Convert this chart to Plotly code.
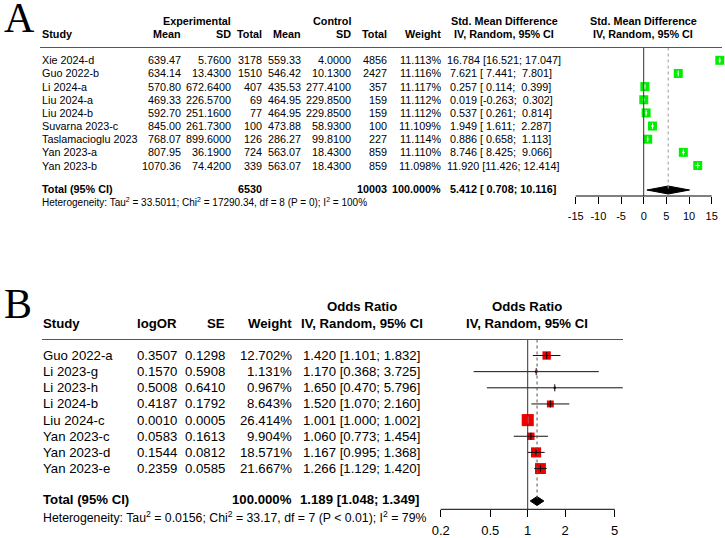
import math
import plotly.graph_objects as go

# ---------------- Panel A data ----------------
studies_a = ["Xie 2024-d", "Guo 2022-b", "Li 2024-a", "Liu 2024-a", "Liu 2024-b",
             "Suvarna 2023-c", "Taslamacioglu 2023", "Yan 2023-a", "Yan 2023-b"]
exp_mean = [639.47, 634.14, 570.80, 469.33, 592.70, 845.00, 768.07, 807.95, 1070.36]
exp_sd = [5.76, 13.43, 672.64, 226.57, 251.16, 261.73, 899.60, 36.19, 74.42]
exp_n = [3178, 1510, 407, 69, 77, 100, 126, 724, 339]
ctl_mean = [559.33, 546.42, 435.53, 464.95, 464.95, 473.88, 286.27, 563.07, 563.07]
ctl_sd = [4.00, 10.13, 277.41, 229.85, 229.85, 58.93, 99.81, 18.43, 18.43]
ctl_n = [4856, 2427, 357, 159, 159, 100, 227, 859, 859]
weight_a = [11.113, 11.116, 11.117, 11.112, 11.112, 11.109, 11.114, 11.110, 11.098]
smd = [16.784, 7.621, 0.257, 0.019, 0.537, 1.949, 0.886, 8.746, 11.920]
smd_lo = [16.521, 7.441, 0.114, -0.263, 0.261, 1.611, 0.658, 8.425, 11.426]
smd_hi = [17.047, 7.801, 0.399, 0.302, 0.814, 2.287, 1.113, 9.066, 12.414]
total_a = {"exp_n": 6530, "ctl_n": 10003, "weight": 100.000,
           "est": 5.412, "lo": 0.708, "hi": 10.116}
het_a = "Heterogeneity: Tau<sup>2</sup> = 33.5011; Chi<sup>2</sup> = 17290.34, df = 8 (P = 0); I<sup>2</sup> = 100%"
ticks_a = [-15, -10, -5, 0, 5, 10, 15]

# ---------------- Panel B data ----------------
studies_b = ["Guo 2022-a", "Li 2023-g", "Li 2023-h", "Li 2024-b", "Liu 2024-c",
             "Yan 2023-c", "Yan 2023-d", "Yan 2023-e"]
logor = [0.3507, 0.1570, 0.5008, 0.4187, 0.0010, 0.0583, 0.1544, 0.2359]
se = [0.1298, 0.5908, 0.6410, 0.1792, 0.0005, 0.1613, 0.0812, 0.0585]
weight_b = [12.702, 1.131, 0.967, 8.643, 26.414, 9.904, 18.571, 21.667]
or_est = [1.420, 1.170, 1.650, 1.520, 1.001, 1.060, 1.167, 1.266]
or_lo = [1.101, 0.368, 0.470, 1.070, 1.000, 0.773, 0.995, 1.129]
or_hi = [1.832, 3.725, 5.796, 2.160, 1.002, 1.454, 1.368, 1.420]
total_b = {"weight": 100.000, "est": 1.189, "lo": 1.048, "hi": 1.349}
het_b = "Heterogeneity: Tau<sup>2</sup> = 0.0156; Chi<sup>2</sup> = 33.17, df = 7 (P &lt; 0.01); I<sup>2</sup> = 79%"
ticks_b = [0.2, 0.5, 1, 2, 5]
ticklabels_b = ["0.2", "0.5", "1", "2", "5"]

# ---------------- layout geometry (pixels) ----------------
W, H = 725, 538
FONT = "Liberation Sans, Arial, Helvetica, sans-serif"
NB = "\u00a0"


def px(x):
    return x / W


def py(y):
    return 1 - y / H


# panel A
A_X0, A_X1 = 565, 722
A_ZERO, A_PPU = 643.7, 4.533
A_Y0, A_Y1 = 47.5, 196
A_ROW0, A_STEP = 60.3, 13.15


def a_row(p):
    return (p - A_ROW0) / A_STEP


def a_pix(i):
    return A_ROW0 + A_STEP * i


# panel B
B_X0, B_X1 = 430, 623
B_ONE, B_PPD = 527.7, 124.5
B_Y0, B_Y1 = 339.5, 509.3
B_ROW0, B_STEP = 355.5, 16.15


def b_row(p):
    return (p - B_ROW0) / B_STEP


def b_pix(i):
    return B_ROW0 + B_STEP * i


fig = go.Figure()

# ---------------- Panel A forest ----------------
rows_a = list(range(len(studies_a)))
size_a = [2.7 * math.sqrt(w) for w in weight_a]
fig.add_trace(go.Scatter(x=smd, y=rows_a, mode="markers", xaxis="x", yaxis="y",
                         marker=dict(symbol="square", size=size_a, color="#00EE00",
                                     opacity=1, line=dict(width=0)),
                         cliponaxis=False, hoverinfo="skip"))
ci_x_w, ci_y_w, ci_x_b, ci_y_b = [], [], [], []
ctr_col_a = []
for i in rows_a:
    half = size_a[i] / 2 / A_PPU
    inside = smd_lo[i] >= smd[i] - half and smd_hi[i] <= smd[i] + half
    tx, ty = (ci_x_w, ci_y_w) if inside else (ci_x_b, ci_y_b)
    tx += [smd_lo[i], smd_hi[i], None]
    ty += [i, i, None]
    ctr_col_a.append("white" if inside else "black")
fig.add_trace(go.Scatter(x=ci_x_b, y=ci_y_b, mode="lines", xaxis="x", yaxis="y",
                         line=dict(color="black", width=1), hoverinfo="skip"))
fig.add_trace(go.Scatter(x=ci_x_w, y=ci_y_w, mode="lines", xaxis="x", yaxis="y",
                         line=dict(color="white", width=1), hoverinfo="skip"))
fig.add_trace(go.Scatter(x=smd, y=rows_a, mode="markers", xaxis="x", yaxis="y",
                         marker=dict(symbol="line-ns", size=4, opacity=1,
                                     line=dict(color=ctr_col_a, width=1)),
                         cliponaxis=False, hoverinfo="skip"))

tot_row_a = a_row(190)
dh_a = 4 / A_STEP
fig.add_trace(go.Scatter(
    x=[total_a["lo"], total_a["est"], total_a["hi"], total_a["est"], total_a["lo"]],
    y=[tot_row_a, tot_row_a - dh_a, tot_row_a, tot_row_a + dh_a, tot_row_a],
    mode="lines", fill="toself", fillcolor="black", line=dict(color="black", width=1),
    xaxis="x", yaxis="y", hoverinfo="skip"))
fig.add_trace(go.Scatter(x=[0, 0], y=[a_row(A_Y0), a_row(A_Y1)], mode="lines",
                         xaxis="x", yaxis="y", line=dict(color="#333333", width=1),
                         hoverinfo="skip"))
fig.add_trace(go.Scatter(x=[total_a["est"], total_a["est"]], y=[a_row(A_Y0), tot_row_a],
                         mode="lines", xaxis="x", yaxis="y",
                         line=dict(color="#999999", width=1, dash="dot"), hoverinfo="skip"))

# ---------------- Panel B forest ----------------
rows_b = list(range(len(studies_b)))
size_b = [2.35 * math.sqrt(w) for w in weight_b]
fig.add_trace(go.Scatter(x=or_est, y=rows_b, mode="markers", xaxis="x2", yaxis="y2",
                         marker=dict(symbol="square", size=size_b, color="#EE0000",
                                     opacity=1, line=dict(width=0)),
                         cliponaxis=False, hoverinfo="skip"))
ci_x_w, ci_y_w, ci_x_b, ci_y_b = [], [], [], []
ctr_col_b = []
for i in rows_b:
    half = size_b[i] / 2 / B_PPD
    le = math.log10(or_est[i])
    inside = math.log10(or_lo[i]) >= le - half and math.log10(or_hi[i]) <= le + half
    tx, ty = (ci_x_w, ci_y_w) if inside else (ci_x_b, ci_y_b)
    tx += [or_lo[i], or_hi[i], None]
    ty += [i, i, None]
    ctr_col_b.append("white" if inside else "black")
fig.add_trace(go.Scatter(x=ci_x_b, y=ci_y_b, mode="lines", xaxis="x2", yaxis="y2",
                         line=dict(color="#111111", width=1), hoverinfo="skip"))
fig.add_trace(go.Scatter(x=ci_x_w, y=ci_y_w, mode="lines", xaxis="x2", yaxis="y2",
                         line=dict(color="white", width=1), hoverinfo="skip"))
fig.add_trace(go.Scatter(x=or_est, y=rows_b, mode="markers", xaxis="x2", yaxis="y2",
                         marker=dict(symbol="line-ns", size=5, opacity=1,
                                     line=dict(color=ctr_col_b, width=1)),
                         cliponaxis=False, hoverinfo="skip"))
tot_row_b = b_row(501)
dh_b = 4.5 / B_STEP
fig.add_trace(go.Scatter(
    x=[total_b["lo"], total_b["est"], total_b["hi"], total_b["est"], total_b["lo"]],
    y=[tot_row_b, tot_row_b - dh_b, tot_row_b, tot_row_b + dh_b, tot_row_b],
    mode="lines", fill="toself", fillcolor="black", line=dict(color="black", width=1),
    xaxis="x2", yaxis="y2", hoverinfo="skip"))
fig.add_trace(go.Scatter(x=[1, 1], y=[b_row(B_Y0), b_row(B_Y1)], mode="lines",
                         xaxis="x2", yaxis="y2", line=dict(color="#333333", width=1),
                         hoverinfo="skip"))
fig.add_trace(go.Scatter(x=[total_b["est"], total_b["est"]], y=[b_row(B_Y0), tot_row_b],
                         mode="lines", xaxis="x2", yaxis="y2",
                         line=dict(color="#555555", width=1, dash="dot"), hoverinfo="skip"))

# ---------------- shapes: header rules and axis lines ----------------
fig.add_shape(type="line", xref="paper", yref="paper", x0=px(40), x1=px(722),
              y0=py(A_Y0), y1=py(A_Y0), line=dict(color="#555555", width=1))
fig.add_shape(type="line", xref="paper", yref="paper", x0=px(42), x1=px(623),
              y0=py(B_Y0), y1=py(B_Y0), line=dict(color="#555555", width=1))
fig.add_shape(type="line", xref="x", yref="y domain", x0=ticks_a[0], x1=ticks_a[-1],
              y0=0, y1=0, line=dict(color="black", width=1))
fig.add_shape(type="line", xref="x2", yref="y2 domain", x0=ticks_b[0], x1=ticks_b[-1],
              y0=0, y1=0, line=dict(color="black", width=1))


# ---------------- text ----------------
def txt(x, y, s, anchor, size, bold=False, family=FONT):
    fig.add_annotation(x=px(x), y=py(y), xref="paper", yref="paper",
                       text=f"<b>{s}</b>" if bold else s, showarrow=False,
                       xanchor=anchor, yanchor="middle", borderpad=0,
                       font=dict(family=family, size=size, color="black"))


SA = 10.8
ha1, ha2 = 21, 34.3
txt(232, ha1, "Experimental", "right", SA, True)
txt(352, ha1, "Control", "right", SA, True)
txt(504, ha1, "Std. Mean Difference", "center", SA, True)
txt(643, ha1, "Std. Mean Difference", "center", SA, True)
for x, s, a in [(41, "Study", "left"), (182, "Mean", "right"), (232, "SD", "right"),
                (263, "Total", "right"), (302, "Mean", "right"), (352, "SD", "right"),
                (388, "Total", "right"), (442, "Weight", "right"),
                (504, "IV, Random, 95% CI", "center"), (643, "IV, Random, 95% CI", "center")]:
    txt(x, ha2, s, a, SA, True)


def ci_a(e, lo, hi):
    return f"{e:6.3f} [{lo:6.3f}; {hi:6.3f}]".replace(" ", NB)


for i in rows_a:
    y = a_pix(i)
    txt(41, y, studies_a[i], "left", SA)
    txt(182, y, f"{exp_mean[i]:.2f}", "right", SA)
    txt(232, y, f"{exp_sd[i]:.4f}", "right", SA)
    txt(263, y, f"{exp_n[i]}", "right", SA)
    txt(302, y, f"{ctl_mean[i]:.2f}", "right", SA)
    txt(352, y, f"{ctl_sd[i]:.4f}", "right", SA)
    txt(388, y, f"{ctl_n[i]}", "right", SA)
    txt(442, y, f"{weight_a[i]:.3f}%", "right", SA)
    txt(446, y, ci_a(smd[i], smd_lo[i], smd_hi[i]), "left", SA)

ta = 188.5
txt(41, ta, "Total (95% CI)", "left", SA, True)
txt(263, ta, f"{total_a['exp_n']}", "right", SA, True)
txt(388, ta, f"{total_a['ctl_n']}", "right", SA, True)
txt(442, ta, f"{total_a['weight']:.3f}%", "right", SA, True)
txt(446, ta, ci_a(total_a["est"], total_a["lo"], total_a["hi"]), "left", SA, True)
txt(41, 202.5, het_a, "left", 10.0)

SB = 13.2
hb1, hb2 = 306.7, 323.3
txt(362, hb1, "Odds Ratio", "center", SB, True)
txt(527, hb1, "Odds Ratio", "center", SB, True)
for x, s, a in [(42, "Study", "left"), (178, "logOR", "right"), (226, "SE", "right"),
                (293, "Weight", "right"), (362, "IV, Random, 95% CI", "center"),
                (527, "IV, Random, 95% CI", "center")]:
    txt(x, hb2, s, a, SB, True)

for i in rows_b:
    y = b_pix(i)
    txt(42, y, studies_b[i], "left", SB)
    txt(178, y, f"{logor[i]:.4f}", "right", SB)
    txt(226, y, f"{se[i]:.4f}", "right", SB)
    txt(293, y, f"{weight_b[i]:.3f}%", "right", SB)
    txt(421, y, f"{or_est[i]:.3f} [{or_lo[i]:.3f}; {or_hi[i]:.3f}]", "right", SB)

tb = 499.5
txt(42, tb, "Total (95% CI)", "left", SB, True)
txt(293, tb, f"{total_b['weight']:.3f}%", "right", SB, True)
txt(421, tb, f"{total_b['est']:.3f} [{total_b['lo']:.3f}; {total_b['hi']:.3f}]",
    "right", SB, True)
txt(42, 516.5, het_b, "left", 12.3)

# panel letters
SERIF = "Liberation Serif, Times New Roman, serif"
txt(3, 18, "A", "left", 42, family=SERIF)
txt(3, 304, "B", "left", 42, family=SERIF)

# ---------------- axes ----------------
hidden_y = dict(showgrid=False, zeroline=False, showline=False, showticklabels=False,
                ticks="", fixedrange=True)
fig.update_layout(
    width=W, height=H, margin=dict(l=0, r=0, t=0, b=0),
    paper_bgcolor="white", plot_bgcolor="white", showlegend=False,
    xaxis=dict(domain=[px(A_X0), px(A_X1)], anchor="y",
               range=[(A_X0 - A_ZERO) / A_PPU, (A_X1 - A_ZERO) / A_PPU],
               tickvals=ticks_a, ticktext=[str(t) for t in ticks_a],
               ticks="outside", ticklen=7, tickwidth=1, tickcolor="black",
               ticklabelstandoff=3,
               showgrid=False, zeroline=False, showline=False, fixedrange=True,
               tickfont=dict(family=FONT, size=11, color="black")),
    yaxis=dict(domain=[py(A_Y1), py(A_Y0)], anchor="x",
               range=[a_row(A_Y1), a_row(A_Y0)], **hidden_y),
    xaxis2=dict(domain=[px(B_X0), px(B_X1)], anchor="y2", type="log",
                range=[(B_X0 - B_ONE) / B_PPD, (B_X1 - B_ONE) / B_PPD],
                tickvals=ticks_b, ticktext=ticklabels_b,
                ticks="outside", ticklen=7, tickwidth=1, tickcolor="black",
                ticklabelstandoff=2,
                showgrid=False, zeroline=False, showline=False, fixedrange=True,
                tickfont=dict(family=FONT, size=13, color="black")),
    yaxis2=dict(domain=[py(B_Y1), py(B_Y0)], anchor="x2",
                range=[b_row(B_Y1), b_row(B_Y0)], **hidden_y),
)

fig.write_html("out.html", config={"displayModeBar": False},
               post_script="document.body.style.margin='0';document.body.style.overflow='hidden';")
